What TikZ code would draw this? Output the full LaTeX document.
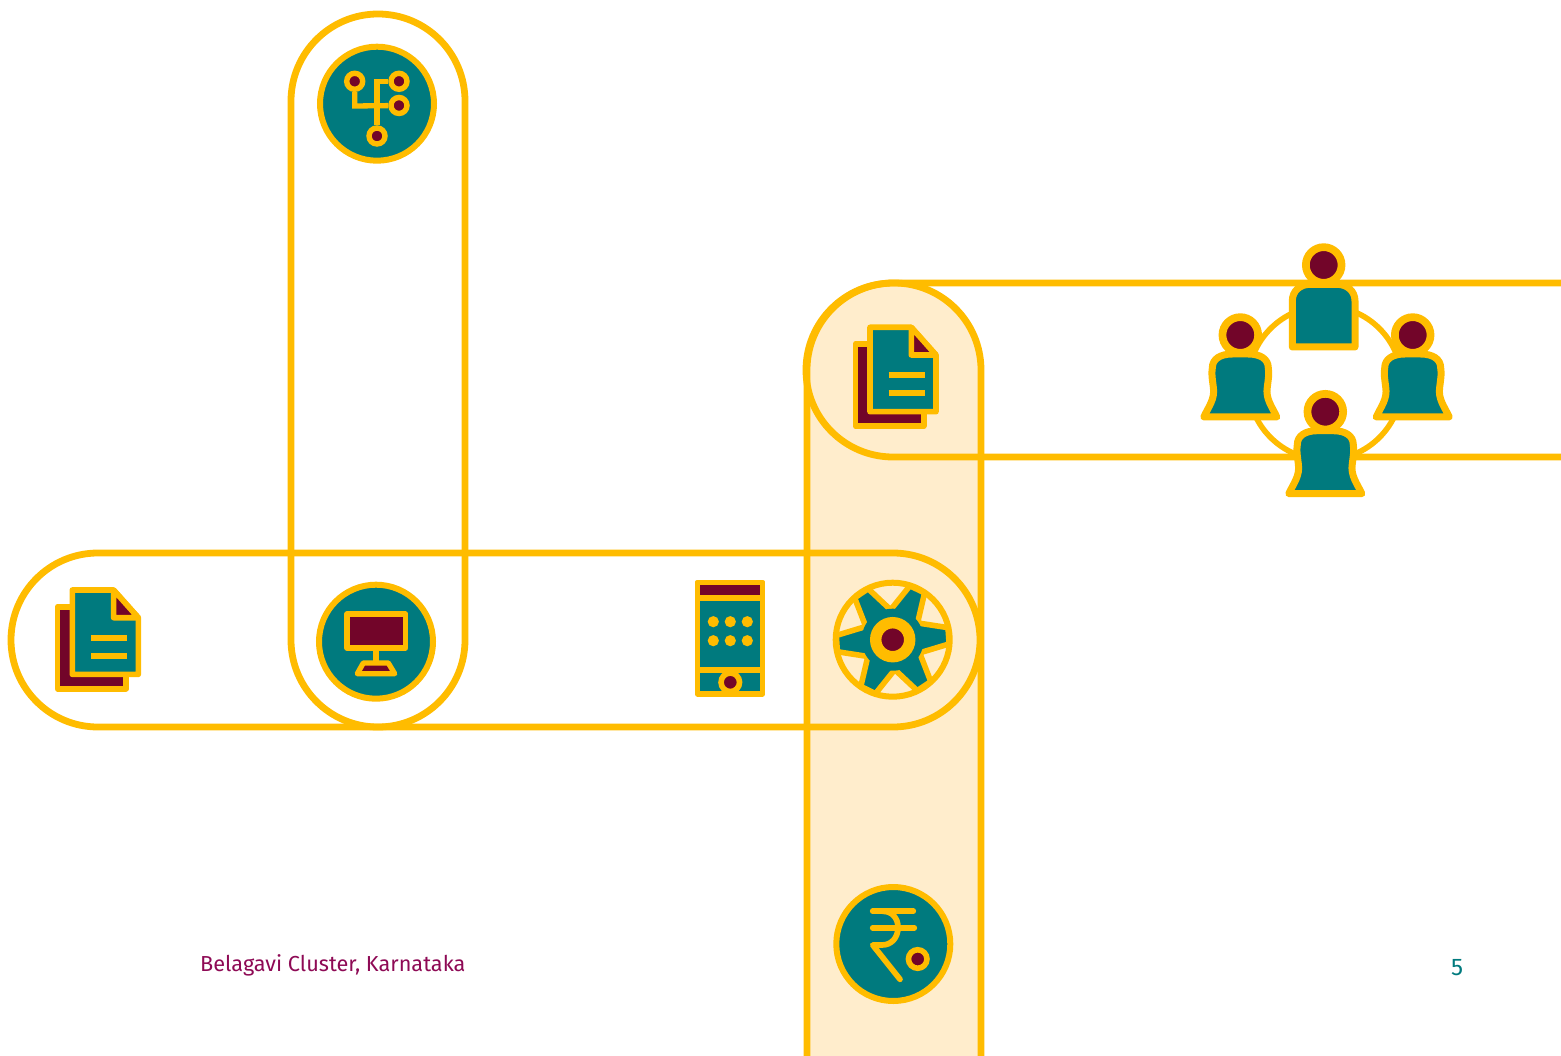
\documentclass[tikz,border=0pt]{standalone}
\usepackage{fontspec}
\setmainfont{Fira Sans}
\definecolor{amber}{HTML}{FFBC00}
\definecolor{tealx}{HTML}{007A7E}
\definecolor{wine}{HTML}{720529}
\definecolor{creamx}{HTML}{FFEDCC}
\definecolor{labelc}{HTML}{8E0A55}
\tikzset{
  band/.style={draw=amber,line width=6.8pt},
  ico/.style={draw=amber,line width=5.6pt,line join=round,line cap=round},
  disc/.style={draw=amber,line width=6pt,fill=tealx},
  dot/.style={circle,fill=wine,draw=amber,line width=5.6pt,inner sep=0pt,minimum size=18.5pt},
  netdot/.style={circle,fill=wine,draw=amber,line width=5.4pt,inner sep=0pt,minimum size=16pt},
  head/.style={circle,fill=wine,draw=amber,line width=7.7pt,inner sep=0pt,minimum size=35.7pt},
  bluebtn/.style={circle,fill=amber,inner sep=0pt,minimum size=11.2pt},
  label/.style={font=\fontsize{21.7}{26}\selectfont,inner sep=0pt,anchor=base west}
}
% person with the bell-shaped body, origin at the head
\newcommand{\bellperson}[3]{%
  \begin{scope}[shift={(#1,#2)}]
    \draw[ico,line width=7pt,fill=tealx] (-36.5,82) .. controls (-32,72) and (-25,64) .. (-27,52)
      .. controls (-28,44) and (-29,39) .. (-28,33) .. controls (-28,24) and (-20,19) .. (-8,19)
      -- (8,19) .. controls (20,19) and (28,24) .. (28,33) .. controls (29,39) and (28,44) .. (27,52)
      .. controls (25,64) and (32,72) .. (36.5,82) -- cycle;
    \node[head] (#3) at (0,0) {};
  \end{scope}}
% stacked document, origin at the front sheet's top left
\newcommand{\docicon}[2]{%
  \begin{scope}[shift={(#1,#2)}]
    \draw[ico,fill=wine] (-14.7,16.7) rectangle (53.7,98.7);
    \draw[ico,fill=tealx] (0,0) -- (41.3,0) -- (66,27.7) -- (66,84.4) -- (0,84.4) -- cycle;
    \draw[ico,fill=wine] (41.3,0) -- (66,27.7) -- (41.3,27.7) -- cycle;
    \draw[draw=amber,line width=6.4pt] (18.7,47.7) -- (55,47.7) (18.7,66) -- (55,66);
  \end{scope}}
\begin{document}
\begin{tikzpicture}[x=1pt,y=-1pt]
\useasboundingbox (0,0) rectangle (1561,1056);
\begin{scope}
\clip (0,0) rectangle (1561,1056);
\fill[white] (0,0) rectangle (1561,1056);
% cream vertical band
\fill[creamx] (807,1060) -- (807,370) arc[start angle=180,end angle=0,x radius=87,y radius=-87] -- (981,1060) -- cycle;
% vertical pill, top left
\draw[band] (291,640) -- (291,101) arc[start angle=180,end angle=0,x radius=87,y radius=-87] -- (465,640)
  arc[start angle=0,end angle=-180,x radius=87,y radius=-87] -- cycle;
% horizontal pill, middle
\draw[band] (98,553) -- (893,553) arc[start angle=90,end angle=-90,x radius=87,y radius=-87] -- (98,727)
  arc[start angle=-90,end angle=-270,x radius=87,y radius=-87] -- cycle;
% cream band outline
\draw[band] (807,1060) -- (807,370) arc[start angle=180,end angle=0,x radius=87,y radius=-87] -- (981,1060);
% horizontal band, upper right
\draw[band] (1565,283) -- (893,283) arc[start angle=90,end angle=270,x radius=87,y radius=-87] -- (1565,457);
\end{scope}
% people ring
\node[circle,draw=amber,line width=5.6pt,inner sep=0pt,minimum size=154pt] (ring) at (1325,383) {};
\draw[ico,line width=7pt,fill=tealx] (1292.3,347) -- (1292.3,301) .. controls (1292.3,291) and (1300,284.3) .. (1310,284.3)
  -- (1337,284.3) .. controls (1347,284.3) and (1355,291) .. (1355,301) -- (1355,347) -- cycle;
\node[head] (headtop) at (1323.7,265) {};
\bellperson{1240.3}{335}{headleft}
\bellperson{1412.7}{335}{headright}
\bellperson{1325.3}{411.7}{headbottom}
% documents
\docicon{870}{327.3}
\docicon{72.3}{590}
% network disc
\draw[disc] (377,103.7) circle[radius=57];
\coordinate (j1) at (354.7,106);
\coordinate (j2) at (377,81.3);
\node[netdot] (n1) at (354.7,81.3) {};
\node[netdot] (n2) at (399,81.3) {};
\node[netdot] (n3) at (399,105.5) {};
\node[netdot] (n4) at (377,136) {};
\draw[draw=amber,line width=5.3pt,line join=miter] (n1) -- (j1) -- (n3);
\draw[draw=amber,line width=5.3pt,line join=miter] (n2) -- (j2) -- (n4);
% monitor disc
\draw[disc] (376,641.7) circle[radius=57];
\draw[ico,line width=5.3pt,fill=wine] (347,614) rectangle (405.6,648);
\draw[draw=amber,line width=5.3pt] (376,648) -- (376,663);
\draw[ico,line width=5.3pt,fill=wine] (363.3,663) -- (388.3,663) -- (394.7,673.7) -- (357.3,673.7) -- cycle;
% phone
\draw[ico,line width=5.3pt,fill=tealx] (697.3,582.7) rectangle (762.7,694);
\draw[ico,line width=5.3pt,fill=wine] (697.3,582.7) rectangle (762.7,598);
\draw[draw=amber,line width=5.3pt] (697.3,670) -- (762.7,670);
\node[bluebtn] (b1) at (713.3,621.7) {};
\node[bluebtn] (b2) at (730.3,621.7) {};
\node[bluebtn] (b3) at (747.3,621.7) {};
\node[bluebtn] (b4) at (713.3,640.7) {};
\node[bluebtn] (b5) at (730.3,640.7) {};
\node[bluebtn] (b6) at (747.3,640.7) {};
\node[dot] (phonebtn) at (730.3,682.3) {};
% gear
\begin{scope}[shift={(892.7,639.7)}]
  \draw[ico,line width=5.6pt,fill=tealx] (-34:30) \foreach \t in {-4,56,116,176,236,296}{
     -- (\t-8.3:56.6) -- (\t+8.3:56.6) -- (\t+30:30)} -- cycle;
  \fill[tealx] (0,0) circle[radius=31];
  \draw[draw=amber,line width=6pt] (0,0) circle[radius=57];
  \node[circle,fill=wine,draw=amber,line width=11.4pt,inner sep=0pt,minimum size=34pt] (gearhub) at (0,0) {};
\end{scope}
% rupee disc
\draw[disc] (893.3,944) circle[radius=57];
\draw[ico,line width=5.7pt,fill=none] (872.7,911.3) -- (913.3,911.3) (872.7,927.7) -- (914.3,927.7);
\draw[ico,line width=5.7pt,fill=none] (883,911.3) .. controls (892,911.3) and (898,918) .. (898,927.5)
  .. controls (898,937) and (892,945) .. (882,945) -- (872.7,945) -- (900,979.3);
\node[dot] (rupeedot) at (917.7,959) {};
% labels
\node[label,text=labelc] (caption) at (200,971) {Belagavi Cluster, Karnataka};
\node[inner sep=0pt,text=tealx,font=\fontsize{24}{28}\selectfont] (pageno) at (1457,968) {5};
\end{tikzpicture}
\end{document}
